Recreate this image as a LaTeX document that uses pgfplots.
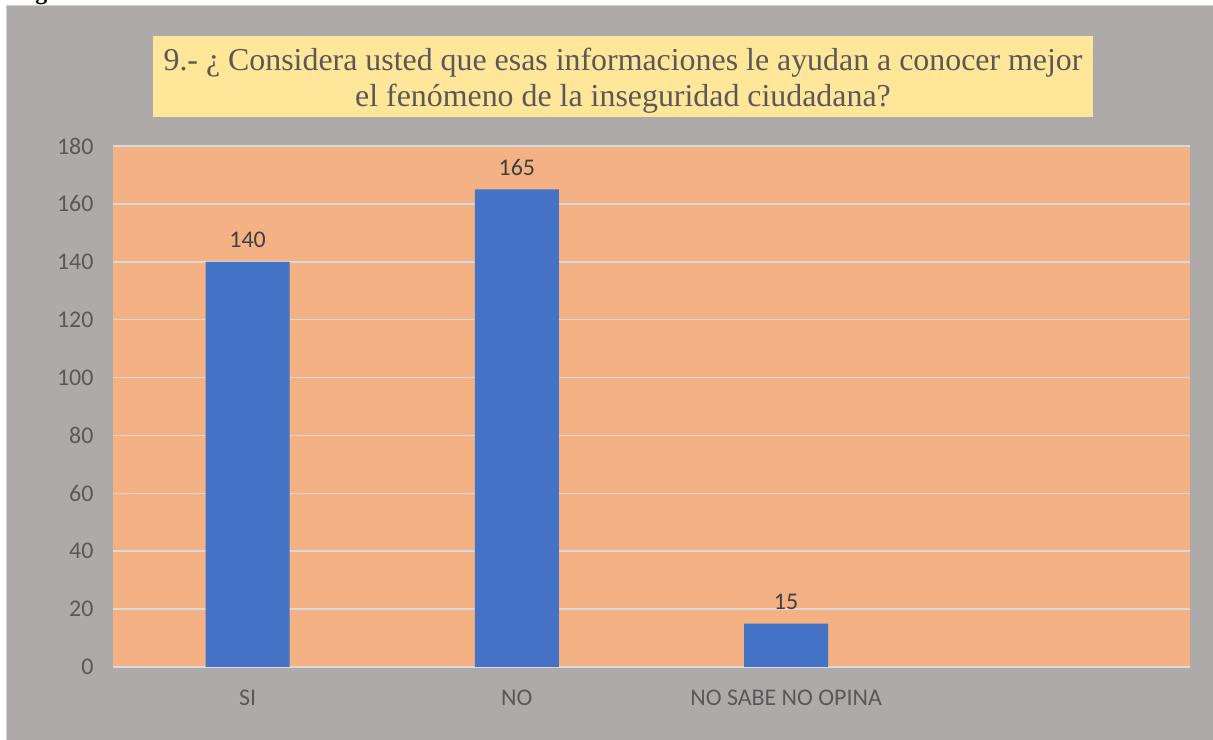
\documentclass[border=0pt]{standalone}
\usepackage{pgfplots}
\pgfplotsset{compat=1.18}
\usepackage{fontspec}
\setmainfont{Liberation Serif}
\newfontfamily\calibri{Carlito}
\definecolor{bggray}{HTML}{AEAAAA}
\definecolor{plotorange}{HTML}{F4B183}
\definecolor{titleyellow}{HTML}{FFE699}
\definecolor{barblue}{HTML}{4472C4}
\definecolor{textgray}{HTML}{595959}
\definecolor{labelgray}{HTML}{404040}
\definecolor{gridc}{HTML}{D9D9D9}
\definecolor{edgec}{HTML}{D0CECE}
\begin{document}
\begin{tikzpicture}
\useasboundingbox (0bp,0bp) rectangle (1213bp,740bp);
\fill[white] (0bp,0bp) rectangle (1213bp,740bp);
\begin{scope}
\clip (0bp,734bp) rectangle (1213bp,740bp);
\node[anchor=base west, inner sep=0pt, font=\bfseries\fontsize{24}{28}\selectfont] at (14bp,740.6bp) {Figura};
\end{scope}
\fill[bggray] (7bp,0bp) rectangle (1213bp,734bp);
\draw[edgec, line width=1.2bp] (6.4bp,0bp) -- (6.4bp,734.6bp) -- (1213bp,734.6bp);
\fill[titleyellow] (153bp,623bp) rectangle (1093bp,704bp);
\node[align=center, text=textgray, font=\fontsize{32}{36}\selectfont, inner sep=0pt] at (623bp,659.5bp)
  {9.- ¿ Considera usted que esas informaciones le ayudan a conocer mejor\\el fenómeno de la inseguridad ciudadana?};
\begin{axis}[
  at={(113bp,73bp)}, anchor=south west,
  width=1077bp, height=521bp, scale only axis,
  xmin=-0.5, xmax=3.5, ymin=0, ymax=180,
  ytick={0,20,...,180},
  xtick={0,1,2}, xticklabels={SI,NO,NO SABE NO OPINA},
  axis background/.style={fill=plotorange},
  axis line style={draw=none},
  major tick length=0pt,
  ymajorgrids, grid style={gridc, line width=1.6bp},
  ybar, bar width=84bp,
  /pgf/number format/assume math mode=true,
  tick label style={font=\calibri\fontsize{24}{28}\selectfont, text=textgray},
  yticklabel style={xshift=-16bp},
  xticklabel style={yshift=-19bp},
  nodes near coords,
  every node near coord/.append style={font=\calibri\fontsize{24}{28}\selectfont, text=labelgray, anchor=center, yshift=22bp},
]
\addplot[fill=barblue, draw=none] coordinates {(0,140) (1,165) (2,15)};
\end{axis}
\end{tikzpicture}
\end{document}
